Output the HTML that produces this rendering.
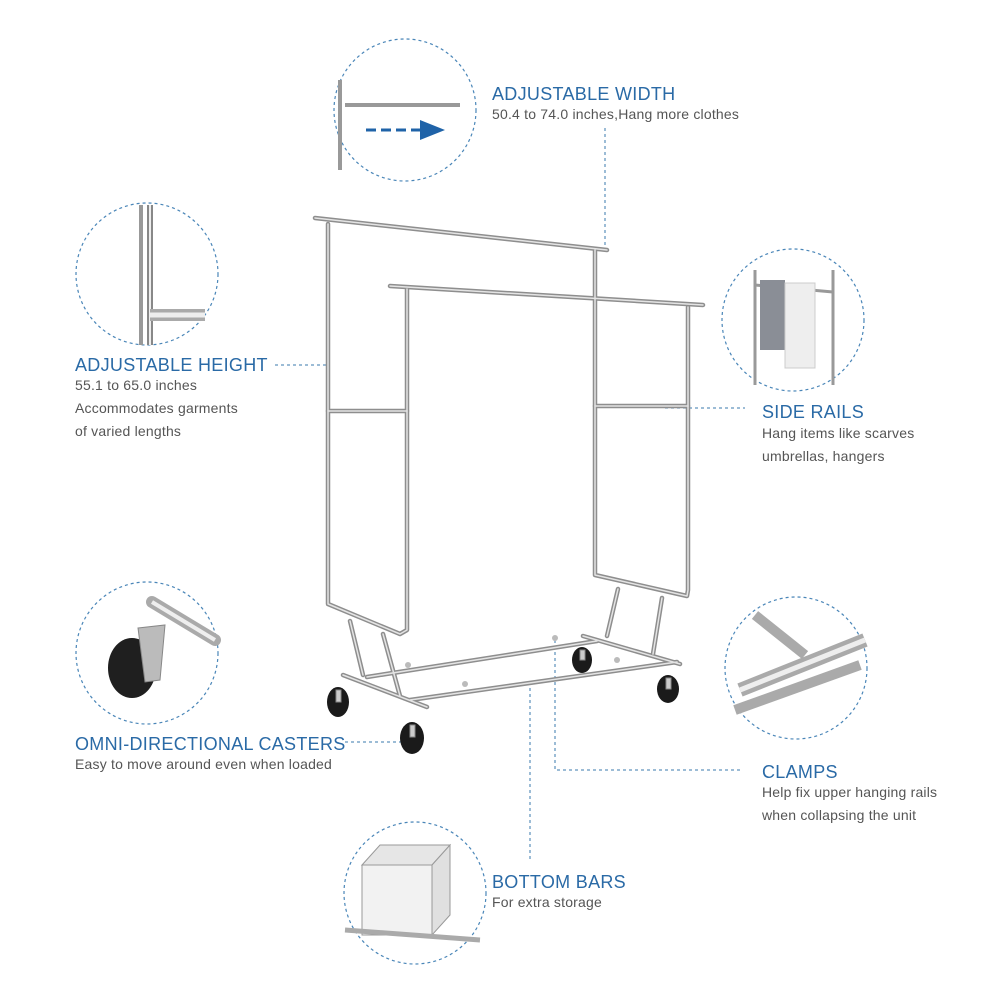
<!DOCTYPE html>
<html><head><meta charset="utf-8"><style>
html,body{margin:0;padding:0;background:#fff;}
svg{display:block;}
.h{font-family:"Liberation Sans",sans-serif;font-size:18px;fill:#2a6aa6;letter-spacing:0.3px}
.s{font-family:"Liberation Sans",sans-serif;font-size:14px;fill:#555;letter-spacing:0.2px}
</style></head><body>
<svg width="1000" height="1000" viewBox="0 0 1000 1000" xmlns="http://www.w3.org/2000/svg">
<defs>
<g id="rack" fill="none" stroke-linecap="round" stroke-linejoin="round">
<line x1="315" y1="218" x2="607" y2="250"/>
<polyline points="328,224 328,604 400,634 407,630 407,289"/>
<polyline points="595,250 595,575 687,596 688,590 688,307"/>
<line x1="390" y1="286" x2="703" y2="305"/>
<line x1="328" y1="411" x2="407" y2="411"/>
<line x1="595" y1="406" x2="688" y2="406"/>
<line x1="350" y1="621" x2="363" y2="675"/>
<line x1="383" y1="634" x2="400" y2="696"/>
<line x1="618" y1="589" x2="607" y2="636"/>
<line x1="662" y1="598" x2="653" y2="654"/>
<line x1="367" y1="677" x2="597" y2="641"/>
<line x1="410" y1="700" x2="677" y2="662"/>
<line x1="343" y1="675" x2="427" y2="707"/>
<line x1="583" y1="636" x2="680" y2="664"/>
</g>
</defs>
<g fill="none" stroke="#4a86b8" stroke-width="1.2" stroke-dasharray="3,3">
<circle cx="405" cy="110" r="71"/>
<circle cx="147" cy="274" r="71"/>
<circle cx="793" cy="320" r="71"/>
<circle cx="147" cy="653" r="71"/>
<circle cx="796" cy="668" r="71"/>
<circle cx="415" cy="893" r="71"/>
</g>
<g fill="none" stroke="#3a78ad" stroke-width="1" stroke-dasharray="3,3">
<line x1="605" y1="128" x2="605" y2="245"/>
<line x1="275" y1="365" x2="330" y2="365"/>
<line x1="665" y1="408" x2="745" y2="408"/>
<line x1="345" y1="742" x2="402" y2="742"/>
<polyline points="555,640 555,770 742,770"/>
<line x1="530" y1="688" x2="530" y2="860"/>
</g>
<!-- top circle detail -->
<g stroke="#999" stroke-width="4" fill="none">
<line x1="345" y1="105" x2="460" y2="105"/>
<line x1="340" y1="80" x2="340" y2="170"/>
</g>
<line x1="366" y1="130" x2="425" y2="130" stroke="#1f63a8" stroke-width="3" stroke-dasharray="10,5"/>
<polygon points="420,120 445,130 420,140" fill="#1f63a8"/>
<!-- left circle detail -->
<g fill="none">
<line x1="141" y1="205" x2="141" y2="345" stroke="#999" stroke-width="4"/>
<line x1="150" y1="205" x2="150" y2="345" stroke="#888" stroke-width="6"/>
<line x1="150" y1="205" x2="150" y2="345" stroke="#eee" stroke-width="2"/>
<line x1="150" y1="315" x2="205" y2="315" stroke="#aaa" stroke-width="12"/>
<line x1="150" y1="315" x2="205" y2="315" stroke="#eee" stroke-width="5"/>
</g>
<!-- right circle detail -->
<g stroke="#999" stroke-width="3" fill="none">
<line x1="755" y1="270" x2="755" y2="385"/>
<line x1="833" y1="270" x2="833" y2="385"/>
<line x1="755" y1="285" x2="833" y2="292"/>
</g>
<rect x="760" y="280" width="25" height="70" fill="#8a8e96"/>
<rect x="785" y="283" width="30" height="85" fill="#eee" stroke="#ccc"/>
<!-- casters circle -->
<g stroke="#aaa" stroke-width="12" stroke-linecap="round"><line x1="152" y1="602" x2="215" y2="640"/></g>
<g stroke="#eee" stroke-width="4"><line x1="152" y1="602" x2="215" y2="640"/></g>
<ellipse cx="132" cy="668" rx="24" ry="30" fill="#1f1f1f"/>
<polygon points="138,628 165,625 160,680 145,682" fill="#bbb" stroke="#888"/>
<!-- clamps circle -->
<g stroke="#aaa" stroke-width="14"><line x1="740" y1="690" x2="865" y2="640"/></g>
<g stroke="#eee" stroke-width="5"><line x1="740" y1="690" x2="865" y2="640"/></g>
<g stroke="#aaa" stroke-width="10"><line x1="755" y1="615" x2="805" y2="655"/><line x1="735" y1="710" x2="860" y2="665"/></g>
<!-- bottom bars circle -->
<rect x="362" y="865" width="70" height="70" fill="#f2f2f2" stroke="#999"/>
<polygon points="362,865 380,845 450,845 432,865" fill="#e6e6e6" stroke="#999"/>
<polygon points="432,865 450,845 450,915 432,935" fill="#e0e0e0" stroke="#999"/>
<g stroke="#aaa" stroke-width="5"><line x1="345" y1="930" x2="480" y2="940"/></g>
<!-- rack -->
<use href="#rack" stroke="#8e8e8e" stroke-width="4.5"/>
<use href="#rack" stroke="#e4e4e4" stroke-width="1.5"/>
<g fill="#1a1a1a">
<ellipse cx="338" cy="702" rx="11" ry="15"/>
<ellipse cx="412" cy="738" rx="12" ry="16"/>
<ellipse cx="582" cy="660" rx="10" ry="13"/>
<ellipse cx="668" cy="689" rx="11" ry="14"/>
</g>
<g fill="#ccc" stroke="#888">
<rect x="336" y="690" width="5" height="12"/><rect x="410" y="725" width="5" height="12"/>
<rect x="580" y="650" width="5" height="10"/><rect x="666" y="678" width="5" height="11"/>
</g>
<g fill="#bbb"><circle cx="555" cy="638" r="3"/><circle cx="408" cy="665" r="3"/><circle cx="465" cy="684" r="3"/><circle cx="617" cy="660" r="3"/></g>
<!-- text -->
<text class="h" x="492" y="100">ADJUSTABLE WIDTH</text>
<text class="s" x="492" y="119">50.4 to 74.0 inches,Hang more clothes</text>
<text class="h" x="75" y="371">ADJUSTABLE HEIGHT</text>
<text class="s" x="75" y="390">55.1 to 65.0 inches</text>
<text class="s" x="75" y="413">Accommodates garments</text>
<text class="s" x="75" y="436">of varied lengths</text>
<text class="h" x="762" y="418">SIDE RAILS</text>
<text class="s" x="762" y="438">Hang items like scarves</text>
<text class="s" x="762" y="461">umbrellas, hangers</text>
<text class="h" x="75" y="750">OMNI-DIRECTIONAL CASTERS</text>
<text class="s" x="75" y="769">Easy to move around even when loaded</text>
<text class="h" x="762" y="778">CLAMPS</text>
<text class="s" x="762" y="797">Help fix upper hanging rails</text>
<text class="s" x="762" y="820">when collapsing the unit</text>
<text class="h" x="492" y="888">BOTTOM BARS</text>
<text class="s" x="492" y="907">For extra storage</text>
</svg>
</body></html>
